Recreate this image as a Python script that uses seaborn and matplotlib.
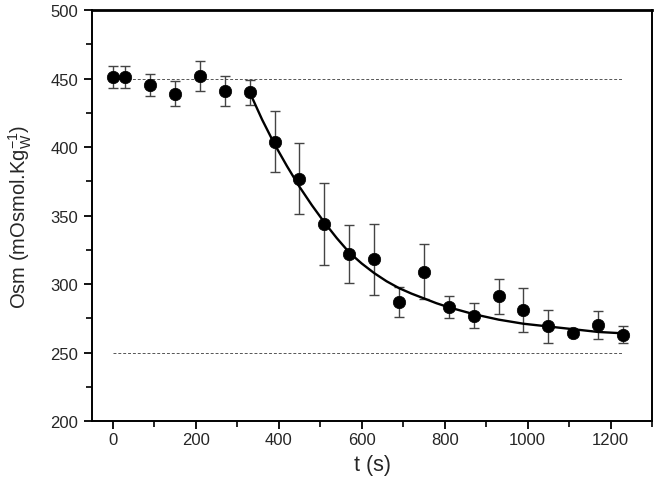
import numpy as np
import pandas as pd
import matplotlib
matplotlib.use("Agg")
import matplotlib.pyplot as plt
from matplotlib.ticker import MultipleLocator
import seaborn as sns

# === DATI ===
t_obs = [0, 30, 90, 150, 210, 270, 330, 390, 450, 510, 570,
         630, 690, 750, 810, 870, 930, 990, 1050, 1110, 1170, 1230]
osm_obs = [451, 451, 445, 439, 452, 441, 440, 404, 377, 344, 322,
           318, 287, 309, 283, 277, 291, 281, 269, 264, 270, 263]
osm_err = [8, 8, 8, 9, 11, 11, 9, 22, 26, 30, 21,
           26, 11, 20, 8, 9, 13, 16, 12, 2, 10, 6]

# curva di fit
t_fit = [330, 360, 390, 420, 450, 480, 510, 540, 570, 600, 630, 660,
         690, 720, 750, 780, 810, 840, 870, 900, 930, 960, 990, 1020,
         1050, 1080, 1110, 1140, 1170, 1200, 1230]
osm_fit = [440, 420, 402, 386, 371, 357.5, 345, 333.5, 323, 315, 308, 302,
           297, 293, 289.5, 286, 283, 280.5, 278, 276, 274, 272.5, 271, 270,
           269, 268, 267, 266, 265, 264.5, 264]

# livelli di riferimento (tratteggiati)
ref_levels = [450, 250]
ref_span = [0, 1230]

obs = pd.DataFrame({'t': t_obs, 'osm': osm_obs, 'err': osm_err})
fit = pd.DataFrame({'t': t_fit, 'osm': osm_fit})

# === GRAFICO ===
sns.set_style('ticks')
plt.rcParams['font.family'] = ['Liberation Sans', 'DejaVu Sans']
plt.rcParams['mathtext.fontset'] = 'custom'
plt.rcParams['mathtext.rm'] = 'Liberation Sans'

fig = plt.figure(figsize=(6.55, 4.89), dpi=100)
ax = fig.add_axes([0.1405, 0.137, 0.855, 0.8405])

ax.hlines(ref_levels, ref_span[0], ref_span[1], colors='#555555',
          linestyles=(0, (3, 2)), linewidth=0.7)

ax.errorbar(obs['t'], obs['osm'], yerr=obs['err'], fmt='none',
            ecolor='#444444', elinewidth=1.0, capsize=3.6, capthick=1.0)

sns.lineplot(data=fit, x='t', y='osm', ax=ax, color='black', linewidth=1.7)
sns.scatterplot(data=obs, x='t', y='osm', ax=ax, color='black', s=80,
                edgecolor='black', linewidth=0.5, zorder=5)

ax.set_xlim(-50, 1300)
ax.set_ylim(200, 500)
ax.xaxis.set_major_locator(MultipleLocator(200))
ax.xaxis.set_minor_locator(MultipleLocator(100))
ax.yaxis.set_major_locator(MultipleLocator(50))
ax.yaxis.set_minor_locator(MultipleLocator(25))
ax.tick_params(which='major', direction='out', length=6, width=1.3,
               labelsize=12, color='black', pad=4)
ax.tick_params(which='minor', direction='out', length=4, width=1.2, color='black')
ax.tick_params(axis='x', which='major', pad=2)

for side in ['left', 'bottom', 'right']:
    ax.spines[side].set_linewidth(1.4)
    ax.spines[side].set_color('black')
ax.spines['top'].set_linewidth(2.0)
ax.spines['top'].set_color('black')

ax.set_xlabel('t (s)', fontsize=15.5, labelpad=5)
ax.set_ylabel(r'Osm (mOsmol.Kg$_\mathregular{W}^\mathregular{-1}$)',
              fontsize=14.5, labelpad=12)

fig.savefig('out.png', dpi=100)
